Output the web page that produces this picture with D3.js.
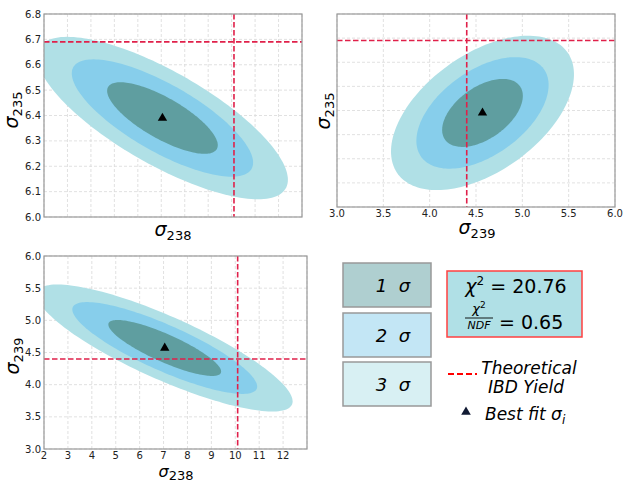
<!DOCTYPE html>
<html>
<head>
<meta charset="utf-8">
<script src="https://cdn.jsdelivr.net/npm/d3@7"></script>
<style>
  body { margin: 0; background: #fff; }
  text { font-family: "DejaVu Sans", sans-serif; }
</style>
</head>
<body>
<div id="chart"></div>
<script>
// fit results for the three cross sections (238, 235, 239)
const params = ["238", "235", "239"];
const bestFit = [7.05, 6.39, 4.57];
const sigmas = [1.555, 0.093, 0.287];
const corr = [
    [1, -0.76, -0.84],
    [-0.76, 1, 0.5],
    [-0.84, 0.5, 1]
];
const theory = [10.1, 6.69, 4.4];
// delta chi2 for 1, 2, 3 sigma (2 parameters)
const contourLevels = [2.30, 6.18, 11.83];
const contourNames = ["1", "2", "3"];
const contourColors = ["#5f9ea0", "#87ceeb", "#b0e0e6"];
const legendColors = ["#afcfd0", "#c3e6f5", "#d8f0f3"];

const ticks238 = [2, 3, 4, 5, 6, 7, 8, 9, 10, 11, 12];
const ticks235 = [6.0, 6.1, 6.2, 6.3, 6.4, 6.5, 6.6, 6.7, 6.8];
const ticks239 = [3.0, 3.5, 4.0, 4.5, 5.0, 5.5, 6.0];
const grid238 = [2, 3, 4, 5, 6, 7, 8, 9, 10, 11, 12, 13];

const chi2 = 20.76;
const chi2ndf = 0.65;

const svg = d3.select("#chart").append("svg")
    .attr("width", 623)
    .attr("height", 481);

const panels = [
    { px: 0, py: 1, left: 44, right: 302, top: 14, bottom: 217,
      xDom: [2, 13], yDom: [6.0, 6.8], xGrid: grid238, yGrid: ticks235,
      xTicks: null, yTicks: ticks235, xFmt: null, yFmt: d3.format(".1f"),
      xLab: [173, 236, 19, 4], yLab: [18, 110] },
    { px: 2, py: 1, left: 337, right: 615, top: 14, bottom: 207,
      xDom: [3, 6], yDom: [6.0, 6.8], xGrid: ticks239, yGrid: ticks235,
      xTicks: ticks239, yTicks: null, xFmt: d3.format(".1f"), yFmt: null,
      xLab: [477, 234, 19, 4], yLab: [330, 111] },
    { px: 0, py: 2, left: 44, right: 307, top: 256, bottom: 449,
      xDom: [2, 13], yDom: [3, 6], xGrid: grid238, yGrid: ticks239,
      xTicks: ticks238, yTicks: ticks239, xFmt: d3.format("d"), yFmt: d3.format(".1f"),
      xLab: [176, 477, 16, 2.5], yLab: [19, 356] }
];

function ellipsePoints(i, j, level) {
    const k = Math.sqrt(level);
    const r = corr[i][j];
    const pts = [];
    for (let n = 0; n <= 160; n++) {
        const t = n / 160 * 2 * Math.PI;
        pts.push([
            bestFit[i] + k * sigmas[i] * Math.cos(t),
            bestFit[j] + k * sigmas[j] * (r * Math.cos(t) + Math.sqrt(1 - r * r) * Math.sin(t))
        ]);
    }
    return pts;
}

function sigmaLabel(g, x, y, sub, rotate, size, shift) {
    const t = g.append("text")
        .attr("transform", `translate(${x}, ${y})` + (rotate ? " rotate(-90)" : ""))
        .attr("text-anchor", "middle")
        .attr("fill", "#000");
    t.append("tspan").style("font-size", (size || 19) + "px").style("font-style", "italic").text("σ");
    t.append("tspan").style("font-size", "13px").attr("dy", shift || 4).text(sub);
}

panels.forEach((p, idx) => {
    const x = d3.scaleLinear().domain(p.xDom).range([p.left, p.right]);
    const y = d3.scaleLinear().domain(p.yDom).range([p.bottom, p.top]);
    const g = svg.append("g");

    g.append("clipPath").attr("id", "clip" + idx)
        .append("rect")
        .attr("x", p.left).attr("y", p.top)
        .attr("width", p.right - p.left).attr("height", p.bottom - p.top);

    // grid
    g.append("g").selectAll("line").data(p.xGrid).enter().append("line")
        .attr("x1", d => x(d)).attr("x2", d => x(d))
        .attr("y1", p.top).attr("y2", p.bottom)
        .attr("stroke", "#d9d9d9").attr("stroke-width", 0.8)
        .attr("stroke-dasharray", "3,2");
    g.append("g").selectAll("line").data(p.yGrid).enter().append("line")
        .attr("x1", p.left).attr("x2", p.right)
        .attr("y1", d => y(d)).attr("y2", d => y(d))
        .attr("stroke", "#d9d9d9").attr("stroke-width", 0.8)
        .attr("stroke-dasharray", "3,2");

    const plot = g.append("g").attr("clip-path", `url(#clip${idx})`);
    const line = d3.line().x(d => x(d[0])).y(d => y(d[1]));

    // contours, outermost first
    for (let c = contourLevels.length - 1; c >= 0; c--) {
        plot.append("path")
            .attr("d", line(ellipsePoints(p.px, p.py, contourLevels[c])))
            .attr("fill", contourColors[c])
            .attr("stroke", "none");
    }

    // theoretical values
    plot.append("line")
        .attr("x1", x(theory[p.px])).attr("x2", x(theory[p.px]))
        .attr("y1", p.top).attr("y2", p.bottom)
        .attr("stroke", "#e0204a").attr("stroke-width", 1.6)
        .attr("stroke-dasharray", "5.5,2.5");
    plot.append("line")
        .attr("x1", p.left).attr("x2", p.right)
        .attr("y1", y(theory[p.py])).attr("y2", y(theory[p.py]))
        .attr("stroke", "#e0204a").attr("stroke-width", 1.6)
        .attr("stroke-dasharray", "5.5,2.5");

    // best fit
    plot.append("path")
        .attr("d", d3.symbol().type(d3.symbolTriangle).size(38)())
        .attr("transform", `translate(${x(bestFit[p.px])}, ${y(bestFit[p.py])})`)
        .attr("fill", "#000");

    // frame
    g.append("rect")
        .attr("x", p.left).attr("y", p.top)
        .attr("width", p.right - p.left).attr("height", p.bottom - p.top)
        .attr("fill", "none").attr("stroke", "#999").attr("stroke-width", 1.2);

    if (p.xTicks) {
        g.append("g").selectAll("text").data(p.xTicks).enter().append("text")
            .attr("x", d => x(d)).attr("y", p.bottom + 10)
            .attr("text-anchor", "middle")
            .style("font-size", "10px").attr("fill", "#222")
            .text(p.xFmt);
    }
    if (p.yTicks) {
        g.append("g").selectAll("text").data(p.yTicks).enter().append("text")
            .attr("x", p.left - 3).attr("y", d => y(d)).attr("dy", "0.35em")
            .attr("text-anchor", "end")
            .style("font-size", "10px").attr("fill", "#222")
            .text(p.yFmt);
    }

    sigmaLabel(g, p.xLab[0], p.xLab[1], params[p.px], false, p.xLab[2], p.xLab[3]);
    sigmaLabel(g, p.yLab[0], p.yLab[1], params[p.py], true);
});

// legend: sigma boxes
const boxY = [263, 313, 362];
const leg = svg.append("g");
contourNames.forEach((n, i) => {
    leg.append("rect")
        .attr("x", 343).attr("y", boxY[i])
        .attr("width", 88).attr("height", 44)
        .attr("fill", legendColors[i])
        .attr("stroke", "#999").attr("stroke-width", 1.5);
    leg.append("text")
        .attr("x", 393).attr("y", boxY[i] + 29)
        .attr("text-anchor", "middle")
        .style("font-size", "18px").style("font-style", "italic")
        .attr("xml:space", "preserve")
        .text(n + "  σ");
});

// chi2 box
leg.append("rect")
    .attr("x", 447).attr("y", 271)
    .attr("width", 135).attr("height", 66)
    .attr("fill", "#b0e0e6")
    .attr("stroke", "#ff4040").attr("stroke-width", 1.5);
const c1 = leg.append("text")
    .attr("x", 516).attr("y", 293)
    .attr("text-anchor", "middle")
    .style("font-size", "19px");
c1.append("tspan").style("font-style", "italic").text("χ");
c1.append("tspan").style("font-size", "12px").attr("dy", -8).text("2");
c1.append("tspan").attr("dy", 8).text(" = " + chi2.toFixed(2));

const f1 = leg.append("text")
    .attr("x", 479).attr("y", 313)
    .attr("text-anchor", "middle")
    .style("font-size", "13px");
f1.append("tspan").style("font-style", "italic").text("χ");
f1.append("tspan").style("font-size", "9px").attr("dy", -5).text("2");
leg.append("line")
    .attr("x1", 465).attr("x2", 493)
    .attr("y1", 318).attr("y2", 318)
    .attr("stroke", "#000").attr("stroke-width", 0.9);
leg.append("text")
    .attr("x", 479).attr("y", 329)
    .attr("text-anchor", "middle")
    .style("font-size", "11px").style("font-style", "italic")
    .text("NDF");
leg.append("text")
    .attr("x", 499).attr("y", 329)
    .style("font-size", "19px")
    .text("= " + chi2ndf.toFixed(2));

// theoretical line legend
leg.append("line")
    .attr("x1", 448).attr("x2", 477)
    .attr("y1", 374).attr("y2", 374)
    .attr("stroke", "#ff0000").attr("stroke-width", 2)
    .attr("stroke-dasharray", "6,3");
leg.append("text")
    .attr("x", 529).attr("y", 374)
    .attr("text-anchor", "middle")
    .style("font-size", "17px").style("font-style", "italic")
    .text("Theoretical");
leg.append("text")
    .attr("x", 526).attr("y", 393)
    .attr("text-anchor", "middle")
    .style("font-size", "17px").style("font-style", "italic")
    .text("IBD Yield");

// best fit legend
leg.append("path")
    .attr("d", d3.symbol().type(d3.symbolTriangle).size(40)())
    .attr("transform", "translate(466, 412)")
    .attr("fill", "#111a33");
const bf = leg.append("text")
    .attr("x", 485).attr("y", 420)
    .style("font-size", "17px").style("font-style", "italic");
bf.append("tspan").text("Best fit σ");
bf.append("tspan").style("font-size", "12px").attr("dy", 4).text("i");
</script>
</body>
</html>
